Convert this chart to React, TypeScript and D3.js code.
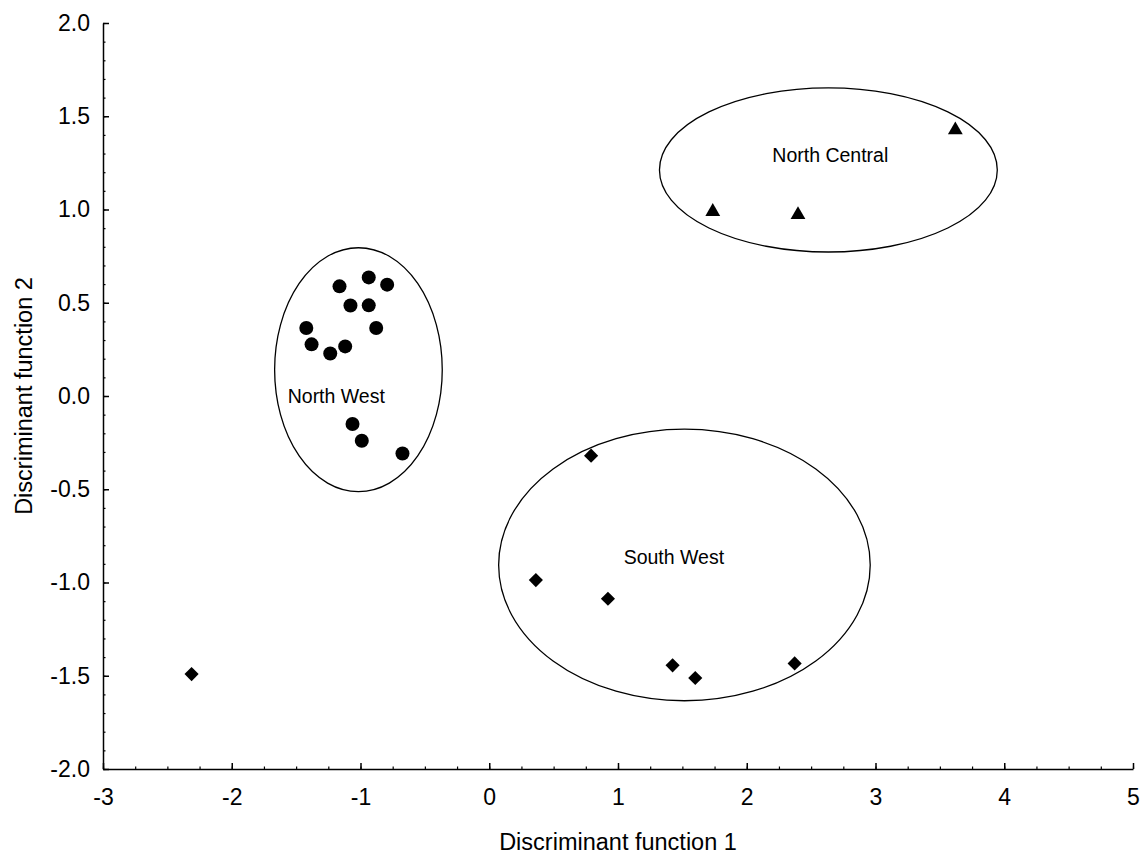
import { useEffect, useRef } from "react";
import * as d3 from "d3";

// North West group (circles)
const nwX = [-1.163, -0.936, -0.793, -1.078, -0.936, -1.421, -0.878, -1.38, -1.235, -1.119, -1.062, -0.99, -0.674];
const nwY = [0.588, 0.636, 0.597, 0.485, 0.486, 0.365, 0.365, 0.277, 0.228, 0.266, -0.15, -0.24, -0.308];

// North Central group (triangles)
const ncX = [1.736, 2.398, 3.62];
const ncY = [0.994, 0.977, 1.432];

// South West group (diamonds)
const swX = [0.791, 0.362, 0.922, 1.424, 1.6, 2.372, -2.312];
const swY = [-0.32, -0.987, -1.087, -1.444, -1.512, -1.434, -1.491];

// group ellipses: centre and radii in discriminant units
const groupNames = ["North West", "North Central", "South West"];
const ellCx = [-1.016, 2.634, 1.516];
const ellCy = [0.141, 1.212, -0.906];
const ellRx = [0.651, 1.312, 1.443];
const ellRy = [0.654, 0.44, 0.728];
const labelX = [-1.188, 2.649, 1.434];
const labelY = [0.0, 1.294, -0.865];

const xTicks = [-3, -2, -1, 0, 1, 2, 3, 4, 5];
const yTicks = [-2.0, -1.5, -1.0, -0.5, 0.0, 0.5, 1.0, 1.5, 2.0];

function App() {
    const svgRef = useRef(null);

    useEffect(() => {
        document.body.style.margin = "0";
        const Width = 1147;
        const Height = 854;
        const Margin = { top: 23, right: 14, bottom: 85, left: 103 };

        const svg = d3.select(svgRef.current);
        svg.selectAll("*").remove();

        const xScale = d3.scaleLinear().domain([-3, 5]).range([Margin.left, Width - Margin.right]);
        const yScale = d3.scaleLinear().domain([-2, 2]).range([Height - Margin.bottom, Margin.top]);

        const font = "'Liberation Sans', Arial, sans-serif";
        const hyphen = (f) => (v) => f(v).replace("\u2212", "-");

        // minor ticks
        svg.append("g")
            .attr("transform", "translate(0," + yScale(-2) + ")")
            .call(d3.axisBottom(xScale).tickValues(d3.range(-3, 5.001, 0.25)).tickSize(-2.5).tickSizeOuter(0).tickFormat(() => ""))
            .call((g) => g.select(".domain").remove())
            .selectAll("line").attr("stroke", "#000").attr("stroke-width", 1.2);

        svg.append("g")
            .attr("transform", "translate(" + xScale(-3) + ",0)")
            .call(d3.axisLeft(yScale).tickValues(d3.range(-2, 2.001, 0.1)).tickSize(-2.5).tickSizeOuter(0).tickFormat(() => ""))
            .call((g) => g.select(".domain").remove())
            .selectAll("line").attr("stroke", "#000").attr("stroke-width", 1.2);

        // major axes
        const xAxis = svg.append("g")
            .attr("transform", "translate(0," + yScale(-2) + ")")
            .call(d3.axisBottom(xScale).tickValues(xTicks).tickSize(-6).tickSizeOuter(0).tickPadding(20).tickFormat(hyphen(d3.format("d"))));
        xAxis.select(".domain").attr("stroke", "#000").attr("stroke-width", 1.5);
        xAxis.selectAll("line").attr("stroke", "#000").attr("stroke-width", 1.5);
        xAxis.selectAll("text").attr("fill", "#000").style("font-family", font).style("font-size", "23px");

        const yAxis = svg.append("g")
            .attr("transform", "translate(" + xScale(-3) + ",0)")
            .call(d3.axisLeft(yScale).tickValues(yTicks).tickSize(-6).tickSizeOuter(0).tickPadding(13).tickFormat(hyphen(d3.format(".1f"))));
        yAxis.select(".domain").attr("stroke", "#000").attr("stroke-width", 1.5);
        yAxis.selectAll("line").attr("stroke", "#000").attr("stroke-width", 1.5);
        yAxis.selectAll("text").attr("fill", "#000").style("font-family", font).style("font-size", "23px");

        // axis labels
        svg.append("text")
            .attr("x", (xScale(-3) + xScale(5)) / 2)
            .attr("y", 850)
            .attr("text-anchor", "middle")
            .style("font-family", font)
            .style("font-size", "23.5px")
            .text("Discriminant function 1");

        svg.append("text")
            .attr("transform", "translate(32," + yScale(0) + ") rotate(-90)")
            .attr("text-anchor", "middle")
            .style("font-family", font)
            .style("font-size", "23.5px")
            .text("Discriminant function 2");

        // ellipses
        const unitX = xScale(1) - xScale(0);
        const unitY = yScale(0) - yScale(1);
        svg.append("g")
            .selectAll("ellipse")
            .data(groupNames)
            .join("ellipse")
            .attr("cx", (d, i) => xScale(ellCx[i]))
            .attr("cy", (d, i) => yScale(ellCy[i]))
            .attr("rx", (d, i) => ellRx[i] * unitX)
            .attr("ry", (d, i) => ellRy[i] * unitY)
            .attr("fill", "none")
            .attr("stroke", "#000")
            .attr("stroke-width", 1.3);

        svg.append("g")
            .selectAll("text")
            .data(groupNames)
            .join("text")
            .attr("x", (d, i) => xScale(labelX[i]))
            .attr("y", (d, i) => yScale(labelY[i]))
            .attr("text-anchor", "middle")
            .attr("dominant-baseline", "central")
            .style("font-family", font)
            .style("font-size", "19.5px")
            .text((d) => d);

        // points
        const nw = nwX.map((x, i) => ({ x, y: nwY[i] }));
        const nc = ncX.map((x, i) => ({ x, y: ncY[i] }));
        const sw = swX.map((x, i) => ({ x, y: swY[i] }));

        svg.append("g")
            .selectAll("circle")
            .data(nw)
            .join("circle")
            .attr("cx", (d) => xScale(d.x))
            .attr("cy", (d) => yScale(d.y))
            .attr("r", 7)
            .attr("fill", "#000");

        const tri = d3.symbol().type(d3.symbolTriangle).size(95);
        svg.append("g")
            .selectAll("path")
            .data(nc)
            .join("path")
            .attr("d", tri)
            .attr("transform", (d) => "translate(" + xScale(d.x) + "," + (yScale(d.y) + 1) + ")")
            .attr("fill", "#000");

        const dia = d3.symbol().type(d3.symbolSquare).size(100);
        svg.append("g")
            .selectAll("path")
            .data(sw)
            .join("path")
            .attr("d", dia)
            .attr("transform", (d) => "translate(" + xScale(d.x) + "," + yScale(d.y) + ") rotate(45)")
            .attr("fill", "#000");
    }, []);

    return (
        <svg ref={svgRef} width={1147} height={854} style={{ display: "block", background: "#fff" }}></svg>
    );
}

export default App;
